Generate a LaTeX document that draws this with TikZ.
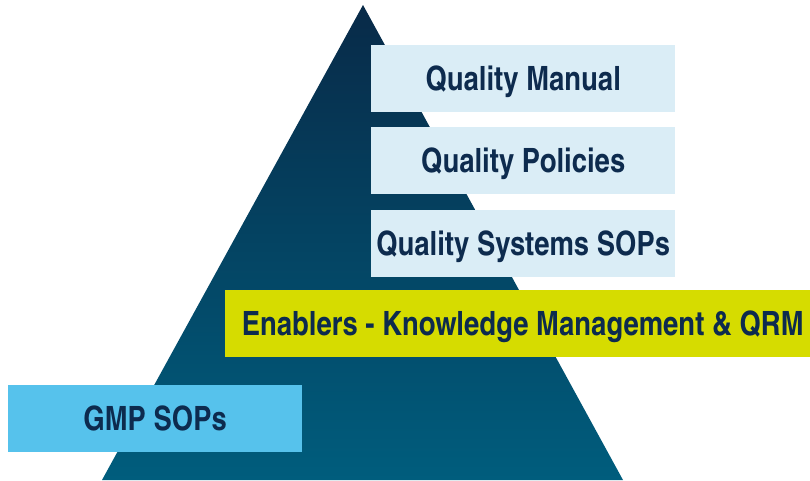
\documentclass[tikz,border=0pt]{standalone}
\usepackage{fontspec}
\usepackage{tikz}
\newfontfamily\pyrfont{texgyreheroscn-bold}[Extension=.otf]
\definecolor{pyrtop}{HTML}{082A48}
\definecolor{pyrbot}{HTML}{005D7D}
\definecolor{paleblue}{HTML}{DAEDF6}
\definecolor{limegreen}{HTML}{D6DC00}
\definecolor{skyblue}{HTML}{56C2EC}
\definecolor{navytext}{HTML}{0D2B4E}
\tikzstyle{level} = [rectangle, minimum width=304pt, minimum height=67pt, inner sep=0pt, text height=24pt, text depth=0pt, text centered, fill=paleblue, text=navytext, font=\pyrfont\fontsize{33.5}{36}\selectfont]
\tikzstyle{enabler} = [level, minimum width=585pt, fill=limegreen]
\tikzstyle{base} = [level, minimum width=294pt, fill=skyblue]

\begin{document}
\begin{tikzpicture}[x=1pt,y=-1pt]
\useasboundingbox (0,0) rectangle (810,480);
\coordinate (apex) at (363,5);
\coordinate (bright) at (623,480);
\coordinate (bleft) at (102,480);
\shade[top color=pyrtop, bottom color=pyrbot] (apex) -- (bright) -- (bleft) -- cycle;
\node (manual)[level, anchor=north west] at (371,45) {Quality Manual};
\node (policies)[level, anchor=north west] at (371,127) {Quality Policies};
\node (systems)[level, anchor=north west] at (371,210) {Quality Systems SOPs};
\node (enablers)[enabler, anchor=north west] at (225,290) {\hspace{10pt}Enablers - Knowledge Management \& QRM};
\node (gmp)[base, anchor=north west] at (8,385) {GMP SOPs};
\end{tikzpicture}
\end{document}
